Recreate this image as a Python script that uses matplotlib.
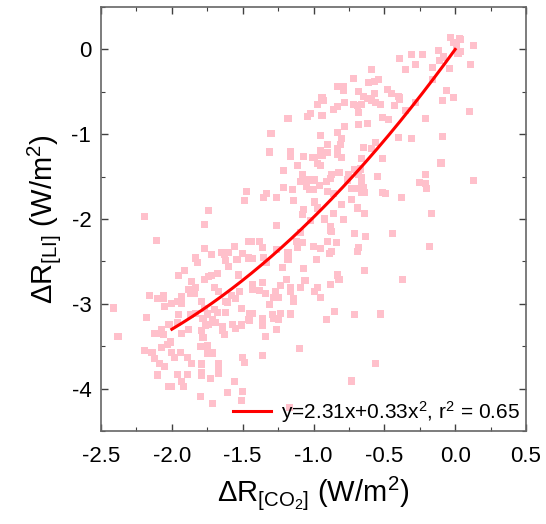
import numpy as np
import matplotlib
matplotlib.use("Agg")
import matplotlib.pyplot as plt
from matplotlib.ticker import MultipleLocator, FormatStrFormatter

plt.rcParams['font.family'] = ['Liberation Sans', 'DejaVu Sans']
plt.rcParams['mathtext.fontset'] = 'custom'
plt.rcParams['mathtext.rm'] = 'Liberation Sans'
plt.rcParams['mathtext.default'] = 'regular'
plt.rcParams['axes.unicode_minus'] = False

# scatter points: dR[CO2] (x) and dR[LI] (y), W/m2
dr_co2 = [
    -0.39, -0.59, -0.72, -0.61, -0.57, -0.54, -0.83, -0.79, -0.79, -0.68,
    -0.57, -0.48, -0.45, -0.94, -0.93, -0.65, -0.62, -0.59, -0.56, -0.53,
    -0.78, -0.97, -0.83, -0.86, -0.72, -0.69, -0.66, -0.43, -0.40, -0.68,
    -0.94, -1.02, -1.04, -1.18, -0.51, -0.47, -0.68, -0.62, -0.78, -1.30,
    -0.95, -0.83, -0.80, -0.40, -0.90, -0.81, -0.83, -0.95, -0.65, -0.56,
    -0.59, -1.16, -1.31,
    -0.03, 0.03, 0.04, -0.01, 0.01, 0.13, -0.12, 0.04, 0.02, -0.23,
    -0.31, -0.08, -0.11, -0.28, 0.11, -0.16, -0.04, -0.35, -0.16, -0.39,
    -0.39, -0.06, -0.09, -0.01, -0.35, 0.10, -0.28, -0.21, -0.31, -0.09,
    -0.10, -0.21, -0.25, -0.21, -0.20, 0.13, -0.38, -0.17, -0.44, -0.18,
    -0.37,
    -1.31, -1.16, -1.07, -1.01, -0.99, -0.90, -0.94, -0.83, -0.80, -0.97,
    -0.95, -1.11, -0.66, -0.51,
    -1.21, -1.08, -1.04, -1.09, -0.99, -0.87, -0.88, -0.91, -0.82, -0.75,
    -0.71, -0.67, -0.68, -0.66, -0.55, -0.76,
    -1.21, -1.15, -1.05, -0.96, -1.03, -1.00, -0.90, -0.86, -0.73, -0.70,
    -0.66, -0.65, -0.66, -0.64, -0.51, -0.49,
    -1.33, -1.35, -1.26, -1.14, -0.99, -0.73, -0.80,
    -1.07, -1.08, -0.97, -0.86, -0.69, -0.64,
    -1.26, -1.02, -0.92, -0.79, -0.88, -0.88, -0.87, -1.09, -0.71, -0.63,
    -1.44, -1.38, -1.36, -1.12, -1.08, -1.11, -1.00, -0.90, -0.84, -0.95,
    -0.87, -0.89, -0.68, -0.69,
    -1.26, -1.43, -1.35, -1.33, -1.18, -1.18, -0.98,
    -1.22, -1.07, -0.64, -1.19, -0.83, -0.82, -1.06,
    -1.43, -1.36, -1.23, -1.09, -0.97, -0.88, -0.99,
    -1.43, -1.38, -1.34, -1.27, -1.16, -1.16, -1.28, -1.25, -1.14, -0.95,
    -1.14, -1.31, -1.23, -1.29, -1.28, -1.25, -1.16, -1.43, -1.45, -1.36,
    -1.36, -1.26, -1.34, -0.91, -0.85, -0.71, -0.53, -1.36, -1.10, -0.56,
    -0.73, -1.17,
    -1.47, -1.49, -2.19, -1.74, -1.77, -2.11, -1.46, -1.77, -1.83, -1.82,
    -1.72, -1.65, -1.63, -1.60, -1.56, -1.50, -1.46, -1.54, -1.62, -1.60,
    -1.68, -1.72, -1.74, -1.77, -1.91, -1.95, -1.86, -1.83, -1.88, -1.87,
    -1.84, -1.70, -1.67, -1.53, -1.52, -1.58, -1.55, -2.16, -2.10, -2.06,
    -1.93, -1.96, -1.79,
    -2.06, -2.00, -1.93, -2.05, -2.41, -2.18, -1.95, -1.87, -1.83, -1.77,
    -1.75, -1.78, -1.70, -1.68, -1.71, -1.74, -1.69, -1.62, -1.61, -1.62,
    -1.51, -1.45, -1.46,
    -1.96, -2.02, -2.07, -2.06, -2.10, -2.12, -1.93, -1.88, -1.79, -1.76,
    -1.64, -1.64, -1.63, -1.57, -1.55, -1.51,
    -2.38, -2.03, -2.01, -2.07, -1.80, -1.75, -1.78,
    -2.19, -2.14, -2.00, -1.98, -1.94, -1.89, -1.75, -1.71, -1.50, -1.49,
    -2.12, -2.09, -2.05, -1.86, -1.79, -1.67, -1.67,
    -2.10, -1.96, -1.89, -1.79, -1.79, -1.73, -1.67, -1.56,
    -1.93, -1.92, -2.02, -2.00, -1.80, -1.61, -1.50, -1.51, -1.71,
]
dr_li = [
    -0.11, -0.24, -0.34, -0.39, -0.38, -0.35, -0.44, -0.44, -0.48, -0.50,
    -0.52, -0.47, -0.52, -0.57, -0.60, -0.56, -0.58, -0.60, -0.63, -0.65,
    -0.63, -0.65, -0.67, -0.71, -0.65, -0.66, -0.65, -0.66, -0.56, -0.74,
    -0.78, -0.76, -0.79, -0.82, -0.80, -0.83, -0.89, -0.87, -0.91, -0.99,
    -1.02, -0.98, -1.05, -1.04, -1.12, -1.12, -1.17, -1.19, -1.16, -1.10,
    -1.17, -1.21, -1.21,
    0.14, 0.13, 0.12, 0.08, 0.05, 0.05, -0.01, -0.02, -0.05, -0.06,
    -0.06, -0.09, -0.13, -0.18, -0.18, -0.21, -0.22, -0.24, -0.35, -0.57,
    -0.59, -0.48, -0.60, -0.57, -0.72, -0.73, -0.63, -0.82, -1.05, -1.03,
    -1.34, -1.47, -1.57, -1.58, -1.64, -1.55, -1.75, -1.93, -2.17, -2.32,
    -2.71,
    -1.22, -1.26, -1.26, -1.28, -1.28, -1.22, -1.25, -1.24, -1.28, -1.35,
    -1.37, -1.37, -1.29, -1.29,
    -1.43, -1.48, -1.54, -1.56, -1.54, -1.48, -1.52, -1.56, -1.45, -1.48,
    -1.42, -1.41, -1.48, -1.51, -1.50, -1.54,
    -1.63, -1.65, -1.62, -1.61, -1.65, -1.65, -1.68, -1.70, -1.64, -1.64,
    -1.57, -1.63, -1.69, -1.69, -1.69, -1.70,
    -1.70, -1.75, -1.75, -1.78, -1.80, -1.77, -1.83,
    -1.89, -1.95, -1.87, -1.93, -1.87, -1.93,
    -2.08, -2.02, -2.00, -2.01, -2.09, -2.14, -2.15, -2.16, -2.17, -2.21,
    -2.27, -2.27, -2.34, -2.26, -2.28, -2.34, -2.32, -2.27, -2.28, -2.35,
    -2.38, -2.41, -2.34, -2.38,
    -2.36, -2.47, -2.45, -2.51, -2.40, -2.48, -2.48,
    -2.57, -2.58, -2.61, -2.71, -2.66, -2.71, -2.73,
    -2.77, -2.75, -2.78, -2.81, -2.81, -2.77, -2.85,
    -2.83, -2.84, -2.88, -2.85, -2.81, -2.85, -2.93, -2.93, -2.94, -2.93,
    -2.97, -3.01, -3.11, -3.13, -3.17, -3.18, -3.12, -3.11, -3.20, -3.17,
    -3.26, -3.30, -3.39, -3.18, -3.09, -3.13, -3.12, -3.61, -3.53, -3.70,
    -3.91, -4.22,
    -1.68, -1.78, -1.97, -1.90, -2.07, -2.25, -2.26, -2.35, -2.46, -2.51,
    -2.42, -2.40, -2.42, -2.39, -2.32, -2.41, -2.46, -2.48, -2.49, -2.56,
    -2.64, -2.67, -2.68, -2.71, -2.61, -2.67, -2.74, -2.81, -2.83, -2.88,
    -2.88, -2.81, -2.85, -2.66, -2.85, -2.90, -2.94, -2.90, -2.94, -2.90,
    -2.92, -2.97, -2.97,
    -2.94, -3.00, -3.00, -3.03, -3.05, -3.16, -3.13, -3.13, -3.11, -3.06,
    -3.12, -3.17, -3.07, -3.10, -3.18, -3.24, -3.22, -3.10, -2.99, -2.97,
    -3.06, -3.11, -3.19,
    -3.22, -3.24, -3.30, -3.36, -3.35, -3.35, -3.35, -3.30, -3.31, -3.25,
    -3.27, -3.32, -3.36, -3.24, -3.29, -3.25,
    -3.39, -3.48, -3.45, -3.51, -3.50, -3.49, -3.40,
    -3.55, -3.57, -3.57, -3.63, -3.57, -3.63, -3.58, -3.58, -3.63, -3.69,
    -3.65, -3.70, -3.74, -3.70, -3.71, -3.71, -3.76,
    -3.84, -3.83, -3.83, -3.81, -3.85, -3.88, -3.82, -3.92,
    -3.92, -3.98, -3.97, -3.98, -4.09, -4.05, -4.03, -4.14, -4.18,
]

# quadratic fit shown in the legend
fit_a = 2.31
fit_b = 0.33
fit_r2 = 0.65
fit_range = (-2.0, 0.0)

xticks = [-2.5, -2.0, -1.5, -1.0, -0.5, 0.0, 0.5]
yticks = [0, -1, -2, -3, -4]

fig = plt.figure(figsize=(5.46, 5.24), dpi=100)
ax = fig.add_axes([101 / 546, 1 - 431 / 524, 425 / 546, 424 / 524])

ax.scatter(dr_co2, dr_li, marker='s', s=26, color='pink', edgecolors='none', zorder=2)

xf = np.linspace(fit_range[0], fit_range[1], 200)
yf = fit_a * xf + fit_b * xf ** 2
ax.plot(xf, yf, color='red', lw=2.2, zorder=3,
        label='y={}x+{}x$^2$, r$^2$ = {}'.format(fit_a, fit_b, fit_r2))

ax.set_xlim(-2.5, 0.5)
ax.set_ylim(-4.5, 0.5)
ax.set_xticks(xticks)
ax.set_yticks(yticks)
ax.xaxis.set_major_formatter(FormatStrFormatter('%.1f'))
ax.xaxis.set_minor_locator(MultipleLocator(0.25))
ax.yaxis.set_minor_locator(MultipleLocator(0.5))
ax.tick_params(which='both', direction='in', top=True, right=True, labelsize=16, color='0.25')
ax.tick_params(which='major', length=5, width=1)
ax.tick_params(which='minor', length=3, width=0.8)
ax.tick_params(axis='x', which='major', pad=11)
ax.tick_params(axis='y', which='major', pad=7)
for s in ax.spines.values():
    s.set_color('0.4')
    s.set_linewidth(1.2)

ax.set_xlabel('ΔR$_{[CO_2]}$ (W/m$^2$)', fontsize=21, labelpad=5)
ax.set_ylabel('ΔR$_{[LI]}$ (W/m$^2$)', fontsize=21, labelpad=6)

ax.legend(loc='lower right', frameon=False, fontsize=15, handlelength=1.8,
          handletextpad=0.5, borderpad=0.2, borderaxespad=0.1)

plt.savefig('out.png', dpi=100)
plt.close()
